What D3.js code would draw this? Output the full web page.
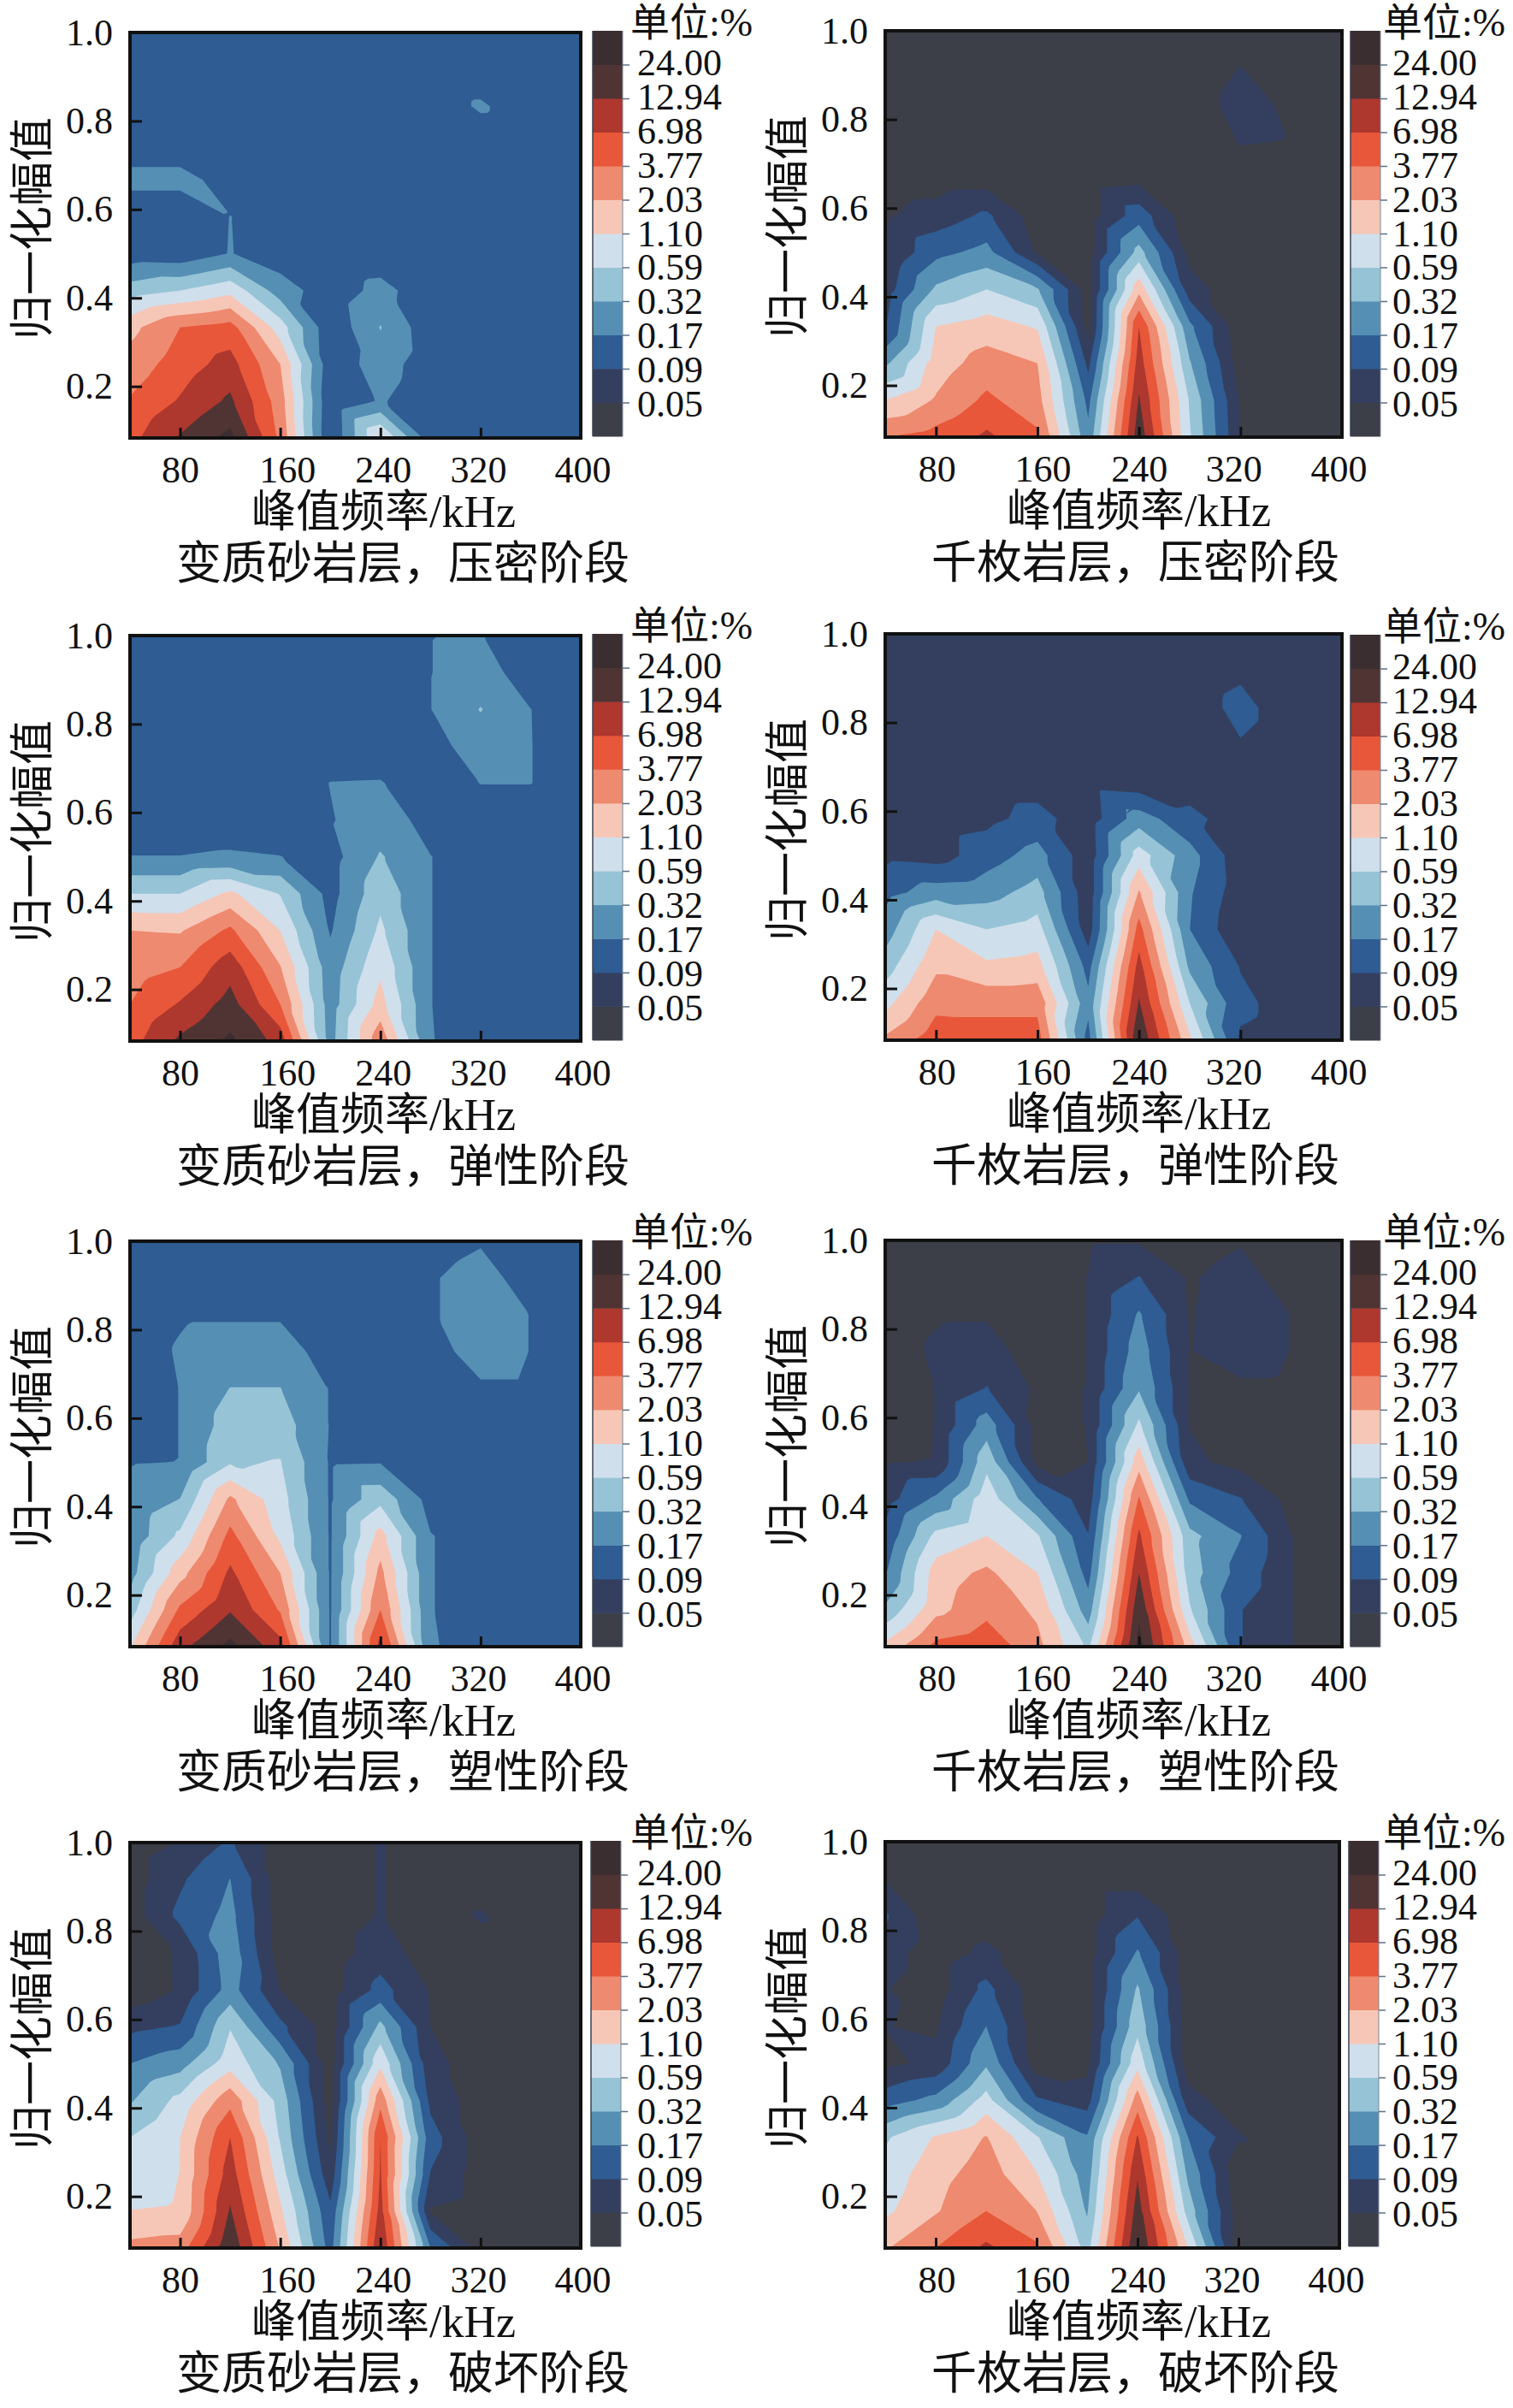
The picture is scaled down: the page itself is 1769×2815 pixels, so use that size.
<!DOCTYPE html>
<html><head><meta charset="utf-8">
<script src="https://cdn.jsdelivr.net/npm/d3@7/dist/d3.min.js"></script>
<style>
html,body{margin:0;padding:0;background:#fff}
svg{display:block}
text{font-family:"Liberation Serif","Noto Sans CJK SC",serif;fill:#111}
</style></head><body>
<svg id="c" width="1769" height="2815"></svg>
<script>
// frequency (kHz) columns, normalised amplitude rows (top to bottom)
const xNodes = [40,80,120,160,200,240,280,320,360,400];
const yNodes = [12,11,10,9,8,7,6,5,4,3,2,1].map(k => k/12);
const xTickValues = [80,160,240,320,400];
const yTickValues = [0.2,0.4,0.6,0.8,1.0];
const levelLabels = ["0.05","0.09","0.17","0.32","0.59","1.10","2.03","3.77","6.98","12.94","24.00"];
const levelValues = levelLabels.map(Number);
const bandColors = ["#3d3f48","#343f5f","#2e5c93","#558fb4","#96c4d6","#d0dfec","#f6c7b7","#ee8a6f","#e85739","#ae372e","#503433","#3a2e30"];
const xLabel = "峰值频率/kHz", yLabel = "归一化幅值", unitLabel = "单位:%";

// values in %, one row per yNodes entry
const sandstoneCompaction = [
[.126,.126,.126,.126,.126,.126,.126,.126,.126,.126],
[.126,.126,.126,.126,.126,.126,.126,.126,.126,.126],
[.126,.126,.126,.126,.126,.126,.126,.182,.126,.126],
[.118,.118,.126,.126,.126,.126,.126,.126,.126,.126],
[.207,.207,.134,.126,.126,.126,.126,.126,.126,.126],
[.105,.105,.172,.126,.126,.126,.126,.126,.126,.126],
[.118,.111,.175,.118,.111,.118,.118,.126,.126,.126],
[.434,.59,.91,.233,.118,.207,.118,.126,.126,.126],
[1.69,3.77,4.83,.80,.105,.33,.111,.126,.126,.126],
[2.6,5.13,8.9,2.03,.111,.233,.118,.126,.126,.126],
[4.0,7.43,14.6,2.77,.098,.182,.111,.126,.126,.126],
[5.8,13.8,28.9,3.33,.0925,1.17,.118,.126,.126,.126]];
const phylliteCompaction = [
[.037,.037,.037,.037,.037,.037,.037,.037,.037,.037],
[.037,.037,.037,.037,.037,.037,.037,.0506,.037,.037],
[.037,.037,.037,.037,.037,.037,.039,.060,.0456,.037],
[.037,.037,.037,.037,.037,.037,.037,.0516,.0491,.037],
[.037,.037,.037,.037,.037,.0416,.037,.037,.037,.037],
[.0465,.064,.101,.037,.037,.126,.0325,.037,.037,.037],
[.0485,.142,.207,.047,.037,.41,.0416,.037,.037,.037],
[.064,.36,.59,.34,.037,1.69,.064,.0345,.037,.037],
[.085,1.10,1.49,1.03,.039,6.98,.195,.0345,.037,.037],
[.28,1.49,2.68,2.03,.077,9.5,.34,.037,.037,.037],
[1.10,2.16,4.27,2.6,.142,13.8,.555,.047,.037,.037],
[3.77,4.83,7.9,4.27,.207,19.9,.63,.0505,.037,.037]];
const sandstoneElastic = [
[.126,.126,.126,.126,.126,.126,.168,.175,.126,.126],
[.126,.126,.126,.126,.126,.126,.168,.22,.126,.126],
[.126,.126,.126,.126,.126,.126,.168,.33,.171,.126],
[.126,.126,.126,.126,.126,.126,.134,.233,.172,.126],
[.126,.126,.126,.126,.172,.175,.126,.172,.172,.126],
[.126,.126,.126,.118,.165,.22,.142,.126,.126,.126],
[.172,.172,.182,.172,.134,.34,.172,.126,.126,.126],
[.59,.59,1.25,.57,.134,.49,.172,.126,.126,.126],
[2.03,1.91,4.27,1.10,.16,.67,.172,.126,.126,.126],
[2.77,3.77,10.1,2.1,.22,.97,.172,.126,.126,.126],
[3.77,7.43,16.6,3.77,.233,1.41,.172,.126,.126,.126],
[5.46,14.6,27.2,10.1,.25,3.13,.175,.126,.126,.126]];
const phylliteElastic = [
[.068,.068,.068,.068,.068,.068,.068,.068,.068,.068],
[.068,.068,.068,.068,.068,.068,.068,.082,.068,.068],
[.068,.068,.068,.068,.068,.068,.068,.105,.068,.068],
[.068,.068,.068,.068,.068,.068,.068,.087,.068,.068],
[.068,.068,.068,.068,.068,.060,.068,.068,.068,.068],
[.068,.068,.077,.111,.064,.233,.105,.068,.068,.068],
[.077,.068,.126,.22,.060,.80,.22,.060,.068,.068],
[.134,.233,.25,.41,.060,2.16,.182,.064,.068,.068],
[.233,1.10,.59,.76,.064,4.83,.171,.053,.068,.068],
[.434,1.80,1.25,1.41,.134,8.9,.28,.087,.068,.068],
[.91,3.13,3.13,3.13,.207,13.8,.59,.105,.068,.068],
[2.30,5.46,5.13,5.13,.134,22.6,1.25,.082,.068,.068]];
const sandstonePlastic = [
[.126,.126,.126,.126,.126,.126,.126,.16,.126,.126],
[.126,.126,.126,.126,.126,.126,.16,.22,.126,.126],
[.126,.16,.16,.16,.126,.126,.16,.22,.168,.126],
[.126,.18,.22,.22,.134,.126,.134,.22,.168,.126],
[.126,.172,.325,.325,.165,.126,.126,.156,.156,.126],
[.126,.172,.434,.434,.165,.126,.126,.126,.126,.126],
[.165,.172,.555,.61,.16,.165,.126,.126,.126,.126],
[.195,.325,2.30,.76,.16,.49,.134,.126,.126,.126],
[.207,.67,4.54,.97,.16,1.41,.175,.126,.126,.126],
[.25,1.6,7.9,2.03,.16,2.44,.175,.126,.126,.126],
[.434,4.27,12.2,3.54,.16,3.77,.175,.126,.126,.126],
[1.03,10.7,28.9,8.9,.16,8.9,.182,.126,.126,.126]];
const phyllitePlastic = [
[.037,.037,.037,.037,.047,.047,.037,.047,.037,.037],
[.037,.037,.037,.037,.0506,.0925,.047,.064,.037,.037],
[.037,.047,.047,.037,.0506,.182,.0485,.064,.0494,.037],
[.037,.0548,.064,.037,.0506,.233,.0491,.064,.0494,.037],
[.037,.0506,.0925,.0456,.0506,.30,.0491,.0456,.0456,.037],
[.037,.0506,.233,.0416,.0506,.67,.0491,.037,.037,.037],
[.0485,.0516,.49,.0416,.0501,1.6,.057,.0416,.037,.037],
[.068,.195,.86,.175,.064,4.0,.152,.093,.0416,.037],
[.105,.71,1.10,.63,.0925,7.9,.385,.175,.0506,.037],
[.16,1.49,2.30,1.10,.134,12.94,.434,.134,.0506,.037],
[.36,1.69,3.13,1.80,.233,21.2,.63,.0925,.0506,.037],
[1.32,4.54,5.8,2.44,.52,30.7,1.49,.0925,.0506,.037]];
const sandstoneFailure = [
[.037,.0516,.098,.037,.037,.0519,.037,.037,.037,.037],
[.037,.082,.172,.037,.037,.0519,.037,.037,.037,.037],
[.037,.105,.207,.037,.037,.0519,.037,.053,.037,.037],
[.037,.053,.25,.037,.037,.068,.037,.037,.037,.037],
[.0345,.053,.22,.0501,.037,.111,.0485,.037,.037,.037],
[.077,.095,.57,.105,.037,.385,.0501,.037,.037,.037],
[.171,.25,.86,.30,.037,.97,.060,.037,.037,.037],
[.30,.71,3.13,.46,.037,3.13,.077,.037,.037,.037],
[.59,1.10,6.98,.555,.0443,6.98,.118,.037,.037,.037],
[.80,1.11,9.5,.80,.060,7.43,.087,.037,.037,.037],
[1.11,1.17,13.8,1.25,.105,8.9,.047,.037,.037,.037],
[2.44,2.77,21.2,1.91,.134,12.94,.171,.039,.037,.037]];
const phylliteFailure = [
[.037,.037,.037,.037,.037,.037,.037,.037,.037,.037],
[.0485,.037,.037,.037,.037,.038,.037,.037,.037,.037],
[.098,.0325,.037,.037,.037,.087,.0345,.037,.037,.037],
[.064,.037,.057,.037,.037,.182,.037,.037,.037,.037],
[.0516,.037,.108,.037,.037,.35,.037,.037,.037,.037],
[.0506,.047,.171,.037,.037,.49,.037,.037,.037,.037],
[.0443,.057,.29,.037,.0416,.91,.037,.037,.037,.037],
[.126,.207,.76,.098,.068,2.77,.064,.0345,.037,.037],
[.54,1.17,2.1,.63,.182,7.43,.171,.053,.037,.037],
[.76,1.6,2.77,1.14,.233,12.2,.28,.0345,.037,.037],
[.97,1.91,3.77,2.03,.30,17.6,.46,.037,.037,.037],
[1.91,3.77,7.9,4.27,.46,25.5,1.10,.037,.037,.037]];

const leftCol = {l:152,bl:693,ux:737,lp:17,shift:[0,8,3,-3,2]};
const rightCol = {l:1035,bl:1579,ux:1617,lp:14,shift:[1,6,0,-8,-4]};
const panels = [
 {...leftCol,title:"变质砂岩层，压密阶段",grid:sandstoneCompaction,r:679,t:38,b:512,bt:36,bb:510},
 {...rightCol,title:"千枚岩层，压密阶段",grid:phylliteCompaction,r:1569,t:36,b:511,bt:36,bb:510},
 {...leftCol,title:"变质砂岩层，弹性阶段",grid:sandstoneElastic,r:679,t:743,b:1217,bt:741,bb:1216},
 {...rightCol,title:"千枚岩层，弹性阶段",grid:phylliteElastic,r:1569,t:741,b:1216,bt:742,bb:1216},
 {...leftCol,title:"变质砂岩层，塑性阶段",grid:sandstonePlastic,r:679,t:1451,b:1925,bt:1450,bb:1925},
 {...rightCol,title:"千枚岩层，塑性阶段",grid:phyllitePlastic,r:1569,t:1450,b:1925,bt:1450,bb:1925},
 {...leftCol,title:"变质砂岩层，破坏阶段",grid:sandstoneFailure,r:679,t:2154,b:2628,bl:691,lp:19,bt:2152,bb:2626},
 {...rightCol,title:"千枚岩层，破坏阶段",grid:phylliteFailure,r:1566,t:2153,b:2628,bl:1577,lp:16,bt:2152,bb:2626}
];

const svg = d3.select("#c");
const nCol = xNodes.length, nRow = yNodes.length;
const logThresholds = levelValues.map(Math.log);
const sub = 8; // drawing subdivisions per grid cell

panels.forEach((p,pi) => {
  const g = svg.append("g");
  const x = d3.scaleLinear().domain([xNodes[0],xNodes[nCol-1]]).range([p.l,p.r]);
  const y = d3.scaleLinear().domain([yNodes[nRow-1],yNodes[0]]).range([p.b,p.t]);
  const clipId = "clip"+pi;
  g.append("clipPath").attr("id",clipId).append("rect")
    .attr("x",p.l).attr("y",p.t).attr("width",p.r-p.l).attr("height",p.b-p.t);

  // one extra row and column of repeated edge cells so bands run through the frame,
  // each cell drawn as two triangles split along its falling diagonal
  const at = (r,c) => Math.log(p.grid[Math.min(nRow-1,Math.max(0,r))][Math.min(nCol-1,Math.max(0,c))]);
  const w = (nCol+1)*sub+1, h = (nRow+1)*sub+1, flat = new Array(w*h);
  for (let j=0;j<h;j++) for (let i=0;i<w;i++) {
    const ci = Math.min(nCol, Math.floor(i/sub)), rj = Math.min(nRow, Math.floor(j/sub));
    const u = i/sub-ci, v = j/sub-rj, c = ci-1, r = rj-1;
    const tl = at(r,c), tr = at(r,c+1), bl = at(r+1,c), br = at(r+1,c+1);
    flat[i+j*w] = u>=v ? tl+u*(tr-tl)+v*(br-tr) : tl+v*(bl-tl)+u*(br-bl);
  }
  const dx = xNodes[1]-xNodes[0], dy = yNodes[0]-yNodes[1];
  const path = d3.geoPath(d3.geoTransform({point(px,py){
    this.stream.point(x(xNodes[0]+((px-0.5)/sub-1)*dx), y(yNodes[0]-((py-0.5)/sub-1)*dy));
  }}));
  const plot = g.append("g").attr("clip-path",`url(#${clipId})`);
  plot.append("rect").attr("x",p.l).attr("y",p.t).attr("width",p.r-p.l).attr("height",p.b-p.t).attr("fill",bandColors[0]);
  const contours = d3.contours().size([w,h]).thresholds(logThresholds)(flat);
  plot.selectAll("path").data(contours).join("path")
    .attr("d",path).attr("fill",(d,i)=>bandColors[i+1]);

  // frame and axes
  g.append("rect").attr("x",p.l).attr("y",p.t).attr("width",p.r-p.l).attr("height",p.b-p.t)
    .attr("fill","none").attr("stroke","#111").attr("stroke-width",4);
  const ax = g.append("g").attr("transform",`translate(0,${p.b})`)
    .call(d3.axisBottom(x).tickValues(xTickValues).tickSizeInner(-12).tickSizeOuter(0).tickPadding(21).tickFormat(d3.format("d")));
  const ay = g.append("g").attr("transform",`translate(${p.l},0)`)
    .call(d3.axisLeft(y).tickValues(yTickValues).tickSizeInner(-14).tickSizeOuter(0).tickPadding(20).tickFormat(d3.format(".1f")));
  [ax,ay].forEach(a=>{
    a.select(".domain").remove();
    a.selectAll("line").attr("stroke","#111").attr("stroke-width",3);
    a.selectAll("text").attr("font-family",null).style("font-size","44px").attr("fill","#111");
  });
  ax.selectAll("text").attr("dx",(d,i)=>p.shift[i]);

  // colour bar
  const bw = 35;
  const by = d3.scaleLinear().domain([0,bandColors.length]).range([p.bb,p.bt]);
  g.selectAll("rect.band").data(bandColors).join("rect").attr("class","band")
    .attr("x",p.bl).attr("width",bw).attr("y",(d,i)=>by(i+1)).attr("height",(d,i)=>by(i)-by(i+1)+0.5).attr("fill",d=>d);
  g.append("line").attr("x1",p.bl).attr("x2",p.bl).attr("y1",p.bt).attr("y2",p.bb).attr("stroke","#3a4250").attr("stroke-width",1.5);
  g.append("line").attr("x1",p.bl+bw).attr("x2",p.bl+bw).attr("y1",p.bt).attr("y2",p.bb).attr("stroke","#7d8896").attr("stroke-width",1);
  const ac = g.append("g").attr("transform",`translate(${p.bl+bw},0)`)
    .call(d3.axisRight(by).tickValues(levelLabels.map((d,i)=>i+1)).tickSizeInner(8).tickSizeOuter(0).tickPadding(p.lp-8).tickFormat(i=>levelLabels[i-1]));
  ac.select(".domain").remove();
  ac.selectAll("line").attr("stroke","#5d7088").attr("stroke-width",1.5);
  ac.selectAll("text").attr("font-family",null).style("font-size","44px").attr("fill","#111")
    .attr("dy",null).attr("y",i=>12+0.4*(11-i));

  // titles
  g.append("text").attr("x",p.ux).attr("y",p.bt+6).style("font-size","46px").text(unitLabel);
  g.append("text").attr("x",p.l+142).attr("y",p.b+104).style("font-size","52px").text(xLabel);
  g.append("text").attr("x",p.l+54).attr("y",p.b+165).style("font-size","53px").text(p.title);
  g.append("text").attr("transform",`translate(${p.l-96},${p.t+229}) rotate(-90)`)
    .attr("text-anchor","middle").style("font-size","52px").text(yLabel);
});
</script>
</body></html>
